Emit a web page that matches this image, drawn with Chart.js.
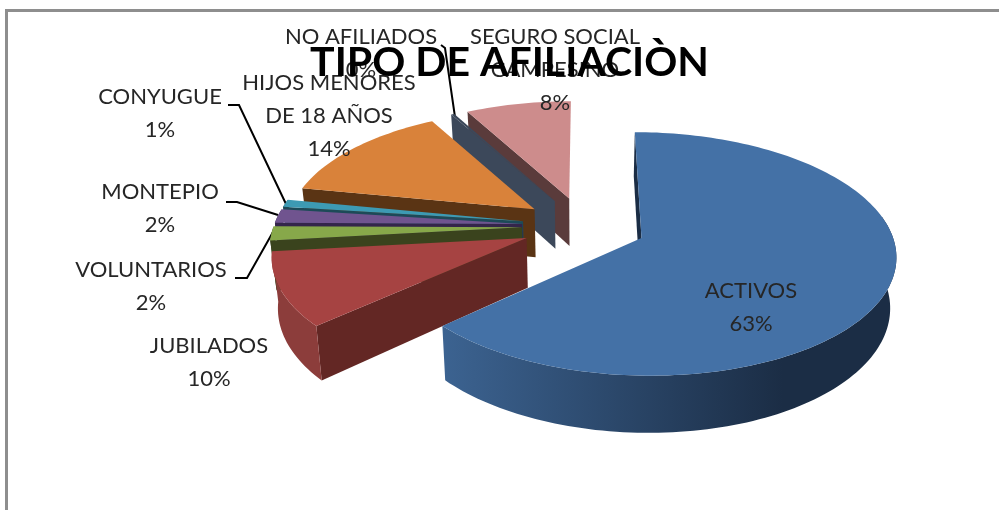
<!DOCTYPE html>
<html>
<head>
<meta charset="utf-8">
<title>Tipo de afiliación</title>
<script src="https://cdn.jsdelivr.net/npm/chart.js@4/dist/chart.umd.min.js"></script>
<style>
  html, body { margin: 0; background: #fff; }
  canvas { display: block; filter: blur(0.4px); }
</style>
</head>
<body>
<canvas id="afiliacionChart" width="999" height="510"></canvas>
<script>
const categories = ['ACTIVOS', 'JUBILADOS', 'VOLUNTARIOS', 'MONTEPIO', 'CONYUGUE', 'HIJOS MENORES DE 18 AÑOS', 'NO AFILIADOS', 'SEGURO SOCIAL CAMPESINO'];
const values = [63.3, 9.95, 1.9, 1.9, 1, 13.8, 0.25, 7.9];

const topColors = ['#4471a6', '#a64342', '#87a84a', '#70548f', '#3d9ab3', '#d9823a', '#3c485a', '#cd8c8c'];
const sideColors = ['#1b2d45', '#632724', '#3a431d', '#34254b', '#1d4a58', '#5a3414', '#3c485a', '#5a3b3b'];
const rimColors = [['#3c6391', '#1b2d45'], ['#8c3d3b', '#8c3d3b'], ['#3a431d', '#3a431d'], ['#34254b', '#34254b'], ['#1d4a58', '#1d4a58'], ['#5a3414', '#5a3414'], ['#3c485a', '#3c485a'], ['#5a3b3b', '#5a3b3b']];

// text lines and centre of each label, the excel file had them dragged by hand
const labelLines = [['ACTIVOS'], ['JUBILADOS'], ['VOLUNTARIOS'], ['MONTEPIO'], ['CONYUGUE'], ['HIJOS MENORES', 'DE 18 AÑOS'], ['NO AFILIADOS'], ['SEGURO SOCIAL', 'CAMPESINO']];
const labelX = [751, 209, 151, 160, 160, 329, 361, 555];
const labelY = [291, 346, 270, 192, 97, 83, 37, 37];
const leaders = [
  null,
  null,
  [[235, 278], [247, 278], [273, 232]],
  [[226, 202], [237, 202], [278, 215]],
  [[228, 105], [239, 105], [286, 204]],
  null,
  [[441, 45], [445, 48], [455, 117]],
  null
];

const explode = 0.25;      // same explosion on every slice
const perspective = 0.13;
const stretchX = 1.79;     // rim size relative to the library's outerRadius
const stretchY = 0.84;
const depth = 49;
const bottomShrink = 0.98;
const pieShiftX = 74.5;    // title stays centred on the frame, pie sits to the right
const lineHeight = 33;
const labelFont = '22px Lato';
const percentUnderTitle = 6; // the 0% is the only percent crossed by the title
const backRim = 0.2;       // rim further back than this never shows its wall

function project(el, theta, r, low) {
  const mid = (el.startAngle + el.endAngle) / 2 + Math.PI / 2;
  const u = explode * Math.sin(mid) + r * Math.sin(theta);
  const v = explode * Math.cos(mid) + r * Math.cos(theta);
  const w = 1 + perspective * v;
  const cx = el.x + pieShiftX;
  let x = cx + el.outerRadius * stretchX * u / w;
  let y = el.y - el.outerRadius * stretchY * v / w;
  if (low) {
    x = cx + (x - cx) * bottomShrink;
    y += depth / w;
  }
  return [x, y];
}

function fillPoly(ctx, pts, color) {
  ctx.beginPath();
  pts.forEach((p, i) => i ? ctx.lineTo(p[0], p[1]) : ctx.moveTo(p[0], p[1]));
  ctx.closePath();
  ctx.fillStyle = color;
  ctx.fill();
}

function rimAngles(el) {
  const a = el.startAngle + Math.PI / 2;
  const b = el.endAngle + Math.PI / 2;
  const steps = Math.max(2, Math.ceil((b - a) * 40));
  const angles = [];
  for (let i = 0; i <= steps; i++) {
    angles.push(a + (b - a) * i / steps);
  }
  return angles;
}

function drawSlice(ctx, el, i) {
  const a = el.startAngle + Math.PI / 2;
  const apex = project(el, 0, 0, false);
  const apexLow = project(el, 0, 0, true);

  // only the start face looks at the viewer here
  fillPoly(ctx, [apex, project(el, a, 1, false), project(el, a, 1, true), apexLow], sideColors[i]);

  const angles = rimAngles(el);
  const topRim = angles.map(t => project(el, t, 1, false));

  // outer wall, front part of the rim only
  const wallAngles = angles.filter(t => Math.cos(t) < backRim);
  if (wallAngles.length > 1) {
    const wallTop = wallAngles.map(t => project(el, t, 1, false));
    const wallLow = wallAngles.map(t => project(el, t, 1, true));
    const xs = topRim.map(p => p[0]);
    const grad = ctx.createLinearGradient(Math.min(...xs), 0, Math.max(...xs), 0);
    grad.addColorStop(0, rimColors[i][0]);
    grad.addColorStop(0.75, rimColors[i][1]);
    grad.addColorStop(1, rimColors[i][1]);
    fillPoly(ctx, wallTop.concat(wallLow.reverse()), grad);
  }

  // top face
  fillPoly(ctx, [apex].concat(topRim), topColors[i]);
}

function setLabelStyle(ctx) {
  ctx.font = labelFont;
  ctx.fillStyle = '#262626';
  ctx.textAlign = 'center';
  ctx.textBaseline = 'middle';
}

function drawNames(ctx, i) {
  setLabelStyle(ctx);
  labelLines[i].forEach((line, n) => ctx.fillText(line, labelX[i], labelY[i] + n * lineHeight));
}

function drawPercent(ctx, i) {
  const total = values.reduce((s, v) => s + v, 0);
  setLabelStyle(ctx);
  ctx.fillText(Math.round(values[i] / total * 100) + '%', labelX[i], labelY[i] + labelLines[i].length * lineHeight);
}

const pie3d = {
  id: 'pie3d',
  // frame, names and leader lines go under the title like in the original
  beforeDraw(chart) {
    const ctx = chart.ctx;
    ctx.save();
    ctx.strokeStyle = '#8e8e8e';
    ctx.lineWidth = 3;
    ctx.beginPath();
    ctx.moveTo(6.5, 510);
    ctx.lineTo(6.5, 10.5);
    ctx.lineTo(999, 10.5);
    ctx.stroke();

    ctx.strokeStyle = '#000';
    ctx.lineWidth = 2;
    leaders.forEach(line => {
      if (!line) return;
      ctx.beginPath();
      line.forEach((p, n) => n ? ctx.lineTo(p[0], p[1]) : ctx.moveTo(p[0], p[1]));
      ctx.stroke();
    });
    for (let i = 1; i < categories.length; i++) {
      drawNames(ctx, i);
    }
    drawPercent(ctx, percentUnderTitle);
    ctx.restore();
  },
  beforeDatasetsDraw(chart) {
    const ctx = chart.ctx;
    const arcs = chart.getDatasetMeta(0).data;
    ctx.save();
    for (let i = arcs.length - 1; i >= 0; i--) {
      drawSlice(ctx, arcs[i], i);
    }
    drawNames(ctx, 0);
    for (let i = 0; i < categories.length; i++) {
      if (i !== percentUnderTitle) drawPercent(ctx, i);
    }
    ctx.restore();
    return false;
  }
};

new Chart(document.getElementById('afiliacionChart'), {
  type: 'pie',
  data: {
    labels: categories,
    datasets: [{
      data: values,
      backgroundColor: topColors,
      borderWidth: 0
    }]
  },
  options: {
    responsive: false,
    animation: false,
    layout: { padding: { left: 20, right: 0, top: 0, bottom: 145.4 } },
    plugins: {
      legend: { display: false },
      tooltip: { enabled: false },
      title: {
        display: true,
        text: 'TIPO DE AFILIACIÒN',
        color: '#000',
        font: { family: 'Lato', size: 41, weight: 'bold', lineHeight: 1.2 },
        padding: { top: 38, bottom: 0 }
      }
    }
  },
  plugins: [pie3d]
});
</script>
</body>
</html>
